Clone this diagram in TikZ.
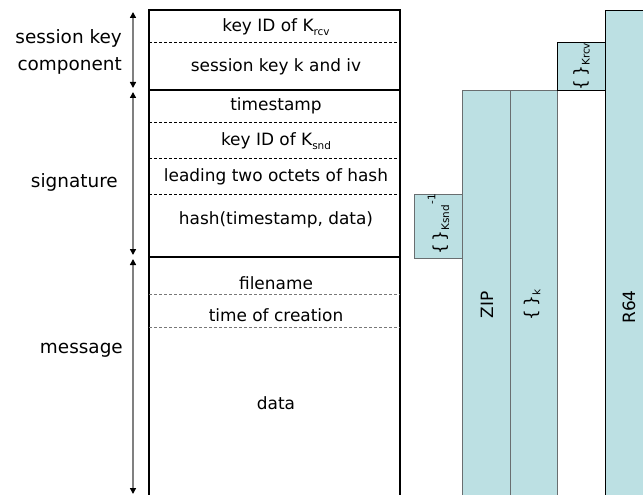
\documentclass[tikz,border=0pt]{standalone}
\usepackage{fontspec}
\setmainfont{DejaVu Sans}
\usetikzlibrary{arrows.meta}
\definecolor{boxblue}{RGB}{188,224,227}
\definecolor{edgegray}{RGB}{105,110,112}
\definecolor{spangray}{RGB}{128,128,128}
\definecolor{msgdash}{RGB}{120,120,120}
% small lowered / raised text used for key names
\newcommand\lowsub[1]{\raisebox{-0.4ex}{\fontsize{10.5}{10.5}\selectfont #1}}
\newcommand\highsup[1]{\raisebox{1.1ex}{\fontsize{10.5}{10.5}\selectfont #1}}
\begin{document}
\begin{tikzpicture}[x=1bp,y=-1bp,
  field/.style={font=\fontsize{17}{20}\selectfont, inner sep=0pt, anchor=center},
  sidelabel/.style={font=\fontsize{18.5}{27}\selectfont, align=right, anchor=east, inner sep=0pt},
  rowsep/.style={line width=0.8bp, dash pattern=on 3bp off 2bp},
  partsep/.style={line width=1.8bp},
  span/.style={draw=spangray, line width=1.4bp,
    {Triangle[length=6bp,width=6bp,color=black]}-{Triangle[length=6bp,width=6bp,color=black]}},
  layer/.style={fill=boxblue, draw=edgegray, line width=1bp, inner sep=0pt, anchor=north west},
  layertext/.style={rotate=90, font=\fontsize{17}{19}\selectfont, inner sep=0pt}
]
\useasboundingbox (0,0) rectangle (643,495);

% ---- packet layout ----
\draw[partsep] (149,520) -- (149,10) -- (400,10) -- (400,520);
\draw[partsep] (149,90) -- (400,90);
\draw[partsep] (149,257) -- (400,257);
\draw[rowsep] (149,42) -- (400,42);
\draw[rowsep] (149,122) -- (400,122);
\draw[rowsep] (149,158) -- (400,158);
\draw[rowsep] (149,194) -- (400,194);
\draw[rowsep, msgdash] (149,294) -- (400,294);
\draw[rowsep, msgdash] (149,327) -- (400,327);

\node[field] (krcv)  at (276,27)  {key ID of K\lowsub{rcv}};
\node[field] (skey)  at (276,67)  {session key k and iv};
\node[field] (tstmp) at (276,106) {timestamp};
\node[field] (ksnd)  at (276,141) {key ID of K\lowsub{snd}};
\node[field] (lead)  at (276,177) {leading two octets of hash};
\node[field] (hash)  at (276,220) {hash(timestamp, data)};
\node[field] (fname) at (276,283) {filename};
\node[field] (tcre)  at (276,315) {time of creation};
\node[field] (data)  at (276,403) {data};

% ---- extent markers ----
\coordinate (s1) at (133,12);  \coordinate (e1) at (133,88);
\coordinate (s2) at (133,92);  \coordinate (e2) at (133,255);
\coordinate (s3) at (133,259); \coordinate (e3) at (133,494);
\draw[span] (s1) -- (e1);
\draw[span] (s2) -- (e2);
\draw[span] (s3) -- (e3);

\node[sidelabel] (lsk)  at (122,52)  {session key\\component};
\node[sidelabel] (lsig) at (118,182) {signature};
\node[sidelabel] (lmsg) at (123,350) {message};

% ---- processing layers ----
\node[layer, minimum width=48bp, minimum height=64bp]  (sign) at (414,194) {};
\node[layer, minimum width=48bp, minimum height=430bp] (zip)  at (462,90)  {};
\node[layer, minimum width=47bp, minimum height=430bp] (enc)  at (510,90)  {};
\node[layer, draw=black, minimum width=48bp, minimum height=48bp]  (wrap) at (557,42)  {};
\node[layer, draw=black, minimum width=48bp, minimum height=500bp] (r64)  at (605,10)  {};

\node[layertext] (tsign) at ([yshift=2bp]sign.center) {\{\,\}\lowsub{Ksnd}\highsup{-1}};
\node[layertext] (tzip)  at (487,305) {ZIP};
\node[layertext] (tenc)  at (532,305) {\{\,\}\lowsub{k}};
\node[layertext] (twrap) at (wrap.center) {\{\,\}\lowsub{Krcv}};
\node[layertext] (tr64)  at (629,307) {R64};
\end{tikzpicture}
\end{document}
